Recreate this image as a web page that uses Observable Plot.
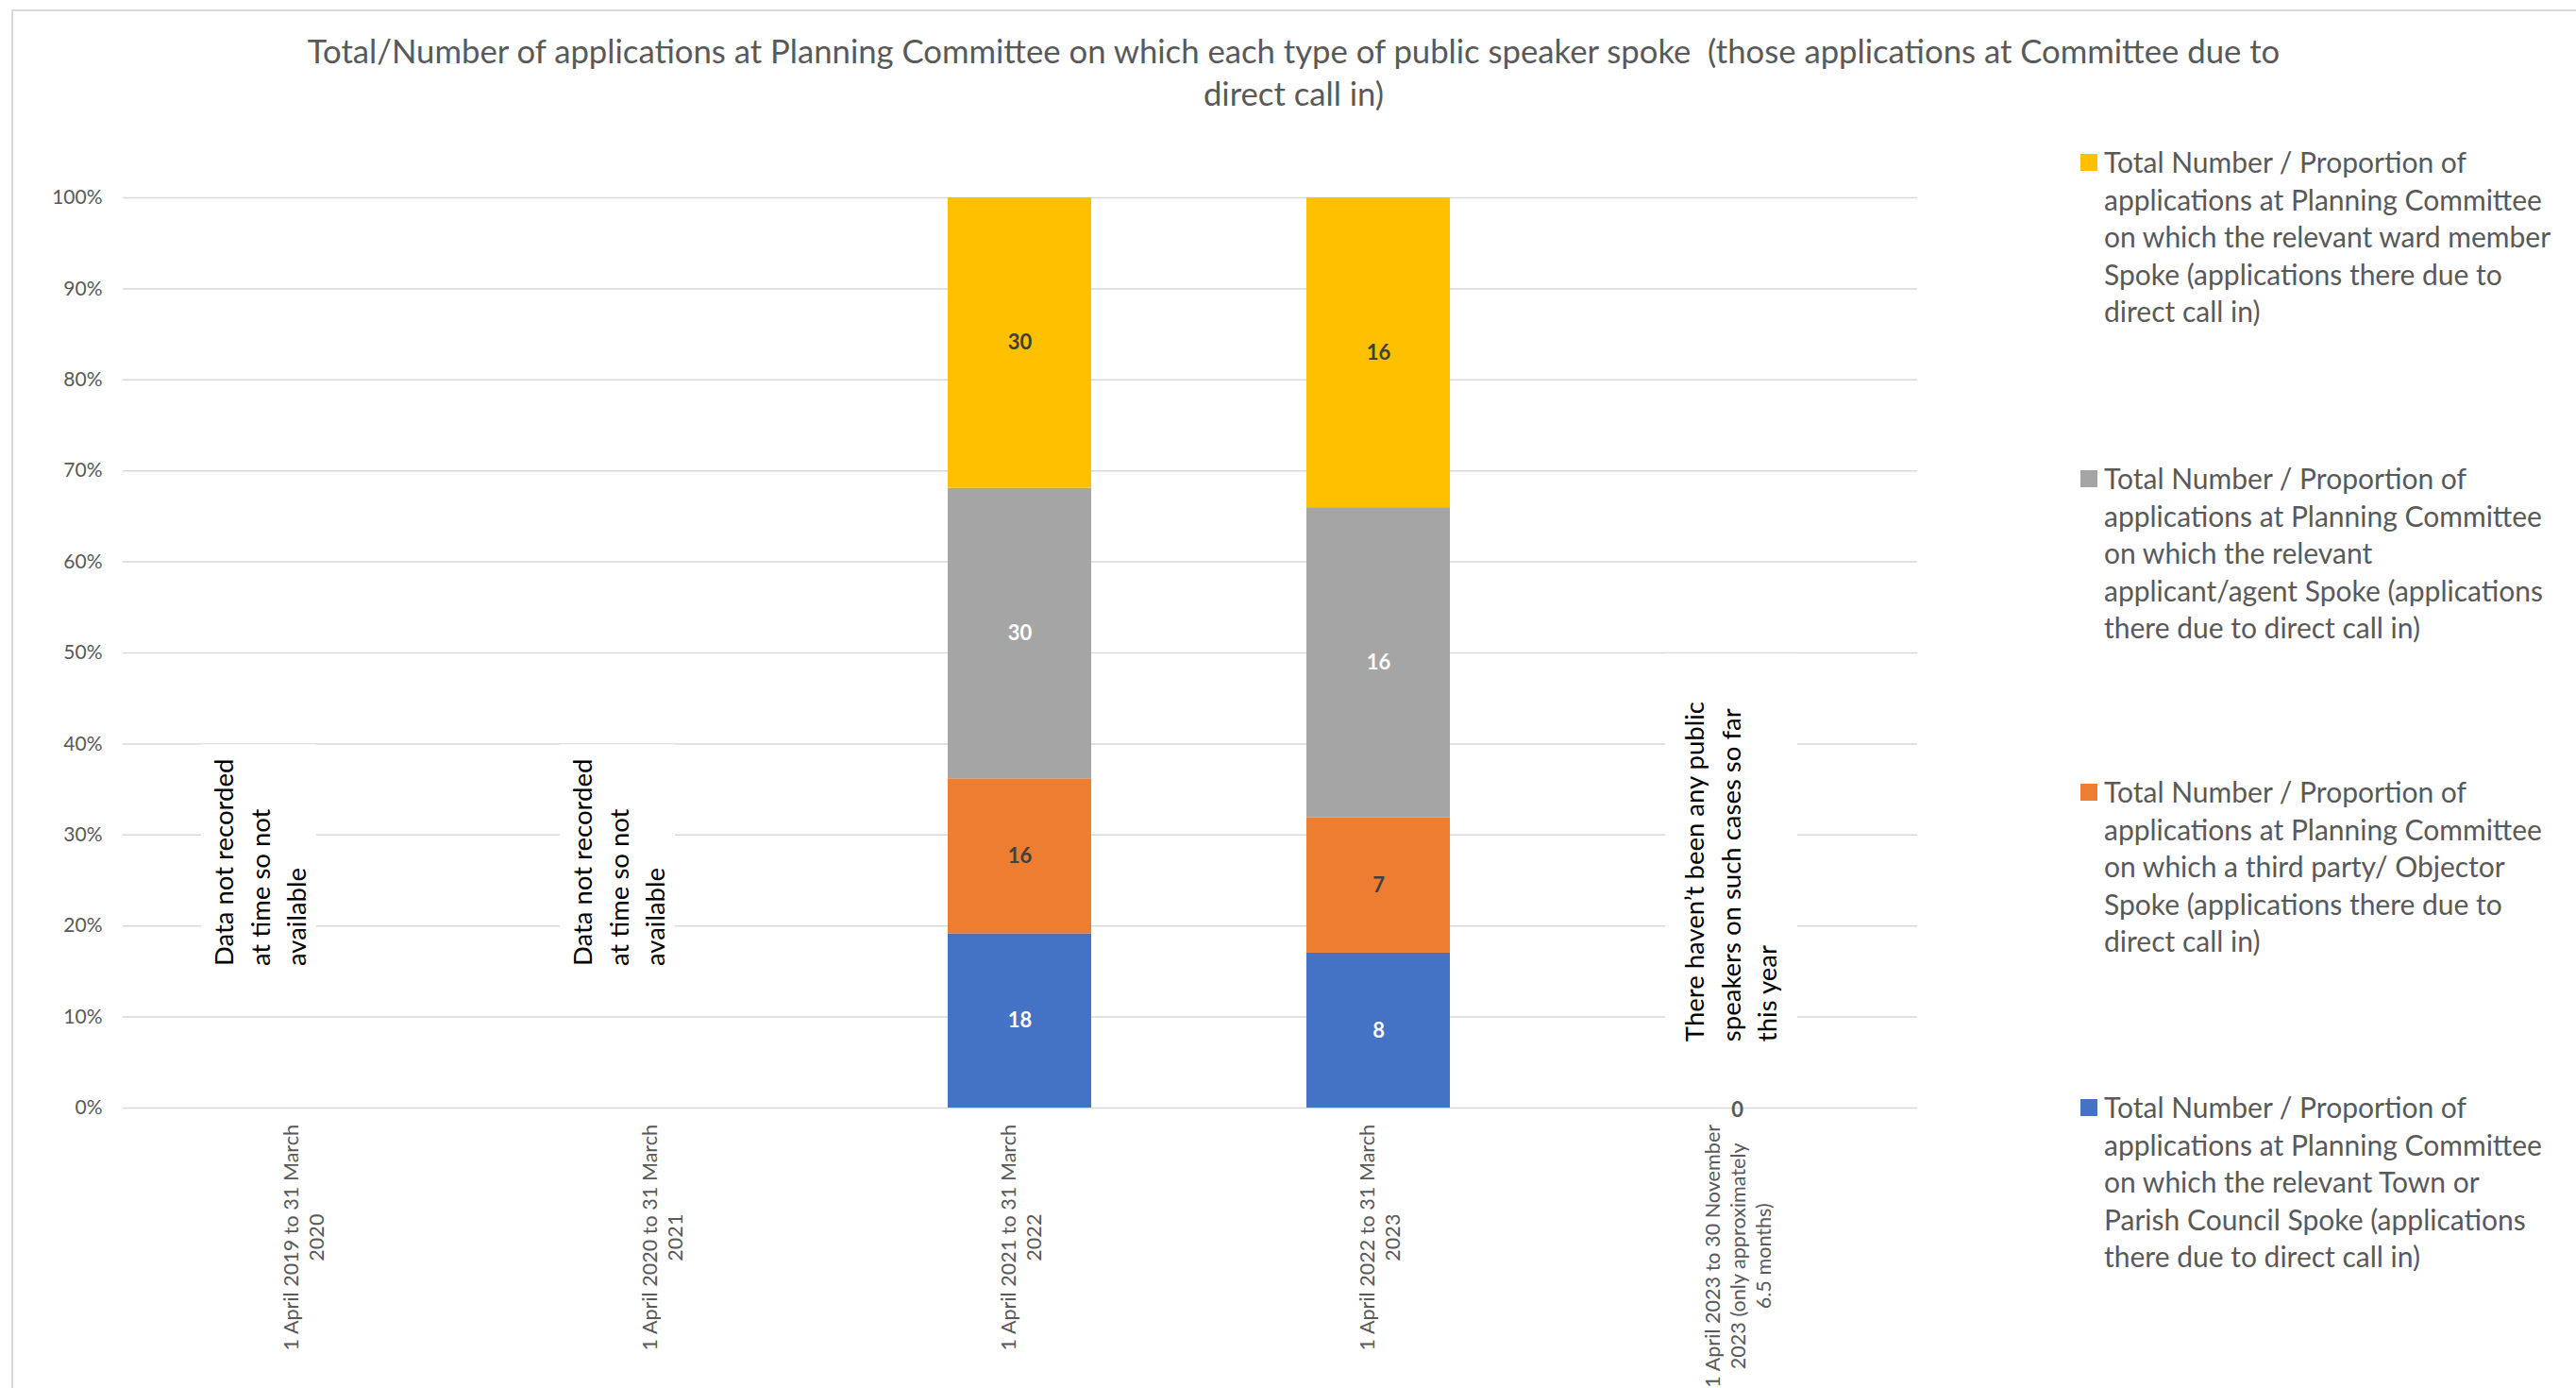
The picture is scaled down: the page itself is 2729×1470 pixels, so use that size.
<!DOCTYPE html>
<html>
<head>
<meta charset="utf-8">
<script src="https://cdn.jsdelivr.net/npm/d3@7"></script>
<script src="https://cdn.jsdelivr.net/npm/@observablehq/plot@0.6"></script>
<style>
  html, body { margin: 0; padding: 0; background: #fff; }
  body { width: 2729px; height: 1470px; overflow: hidden; position: relative; font-family: Lato, sans-serif; }
  #frame { position: absolute; left: 12px; top: 10px; width: 2740px; height: 1500px; border: 2px solid #d9d9d9; box-sizing: border-box; }
  #chart { position: absolute; left: 0; top: 0; }
  #title { position: absolute; left: 12px; width: 2717px; top: 31px; text-align: center; color: #595959; font-size: 34.7px; line-height: 45px; white-space: pre; }
  #legend { position: absolute; left: 2204px; top: 0; color: #595959; font-size: 30px; line-height: 39.5px; }
  .item { position: absolute; left: 0; white-space: pre; }
  .sw { position: absolute; left: 0; top: 11px; width: 18px; height: 18px; }
  .lt { position: absolute; left: 25px; top: 0; }
</style>
</head>
<body>
<div id="frame"></div>
<div id="chart"></div>
<div id="title"></div>
<div id="legend"></div>
<script>
// ---------- data ----------
const titleLines = [
  "Total/Number of applications at Planning Committee on which each type of public speaker spoke  (those applications at Committee due to",
  "direct call in)"
];
const periods = [
  "1 April 2019 to 31 March\n2020",
  "1 April 2020 to 31 March\n2021",
  "1 April 2021 to 31 March\n2022",
  "1 April 2022 to 31 March\n2023",
  "1 April 2023 to 30 November\n2023 (only approximately\n6.5 months)"
];
// stack order, bottom to top
const seriesNames = [
  "Total Number / Proportion of\napplications at Planning Committee\non which the relevant Town or\nParish Council Spoke (applications\nthere due to direct call in)",
  "Total Number / Proportion of\napplications at Planning Committee\non which a third party/ Objector\nSpoke (applications there due to\ndirect call in)",
  "Total Number / Proportion of\napplications at Planning Committee\non which the relevant\napplicant/agent Spoke (applications\nthere due to direct call in)",
  "Total Number / Proportion of\napplications at Planning Committee\non which the relevant ward member\nSpoke (applications there due to\ndirect call in)"
];
// null = not recorded
const parishValues    = [null, null, 18, 8, 0];
const objectorValues  = [null, null, 16, 7, 0];
const applicantValues = [null, null, 30, 16, 0];
const wardValues      = [null, null, 30, 16, 0];
const notes = [
  {period: periods[0], text: "Data not recorded\nat time so not\navailable"},
  {period: periods[1], text: "Data not recorded\nat time so not\navailable"},
  {period: periods[4], text: "There haven\u2019t been any public\nspeakers on such cases so far\nthis year"}
];
const yTicks = [0, 0.1, 0.2, 0.3, 0.4, 0.5, 0.6, 0.7, 0.8, 0.9, 1];

// ---------- derived table ----------
const seriesValues = [parishValues, objectorValues, applicantValues, wardValues];
const table = [];
periods.forEach((p, i) => {
  seriesNames.forEach((s, j) => {
    const v = seriesValues[j][i];
    if (v != null) table.push({period: p, series: s, value: v});
  });
});
const totals = periods.map((p, i) => ({period: p, recorded: seriesValues.every(a => a[i] != null),
  total: d3.sum(seriesValues, a => a[i] || 0)}));
const zeroPeriods = totals.filter(t => t.recorded && t.total === 0);
const stacked = table.filter(d => totals.find(t => t.period === d.period).total > 0);

const colors = ["#4472C4", "#ED7D31", "#A5A5A5", "#FFC000"];
const darkLabelSeries = [seriesNames[1], seriesNames[3]];

// ---------- layout ----------
const W = 2729, H = 1470;
const mL = 130, mR = 698, mT = 209, mB = 297;
const xFont = 21.6;

const canvas = document.createElement("canvas");
const ctx = canvas.getContext("2d");
ctx.font = xFont + "px Lato";
const labelWidth = s => d3.max(s.split("\n"), l => ctx.measureText(l).width);

const stackOpts = {offset: "normalize", order: seriesNames, x: "period", y: "value", z: "series"};

const xLabelMarks = periods.map(p => Plot.text([p], {
  x: d => d, frameAnchor: "bottom", text: d => d, rotate: -90,
  textAnchor: "middle", lineAnchor: "middle", lineHeight: 1.25,
  fontSize: xFont, fill: "#595959", dy: 17 + labelWidth(p) / 2
}));

const plot = Plot.plot({
  width: W, height: H,
  marginLeft: mL, marginRight: mR, marginTop: mT, marginBottom: mB,
  style: {fontFamily: "Lato, sans-serif", color: "#595959", background: "transparent"},
  x: {domain: periods, paddingInner: 0.6, paddingOuter: 0.3, axis: null},
  y: {domain: [0, 1], axis: null, label: null},
  color: {domain: seriesNames, range: colors},
  marks: [
    Plot.gridY(yTicks, {stroke: "#d9d9d9", strokeOpacity: 1, strokeWidth: 1.5}),
    Plot.axisY(yTicks, {tickFormat: d3.format(".0%"), tickSize: 0, tickPadding: 22, fontSize: 21, fill: "#595959", label: null}),
    // white boxes behind notes
    Plot.barY(notes.slice(0, 2), {x: "period", y1: 0.12, y2: 0.399, fill: "white", dx: -46, insetLeft: 15, insetRight: 15}),
    Plot.barY(notes.slice(2), {x: "period", y1: 0.06, y2: 0.499, fill: "white", dx: -6, insetLeft: 6, insetRight: 6}),
    Plot.text(notes.slice(0, 2), {x: "period", y: 0.156, text: "text", rotate: -90, textAnchor: "start",
      lineAnchor: "middle", lineHeight: 1.4, fontSize: 27.5, fill: "black", dx: -47}),
    Plot.text(notes.slice(2), {x: "period", y: 0.073, text: "text", rotate: -90, textAnchor: "start",
      lineAnchor: "middle", lineHeight: 1.4, fontSize: 27.5, fill: "black", dx: -9}),
    Plot.barY(stacked, Plot.stackY({...stackOpts, fill: "series"})),
    Plot.text(stacked, Plot.stackY({...stackOpts, text: d => darkLabelSeries.includes(d.series) ? String(d.value) : "",
      fill: "#404040", fontSize: 22, fontWeight: "bold"})),
    Plot.text(stacked, Plot.stackY({...stackOpts, text: d => darkLabelSeries.includes(d.series) ? "" : String(d.value),
      fill: "white", fontSize: 22, fontWeight: "bold"})),
    Plot.text(zeroPeriods, {x: "period", y: 0, text: d => String(d.total), fill: "#595959", fontSize: 22, fontWeight: "bold", dy: 2}),
    ...xLabelMarks
  ]
});
document.getElementById("chart").appendChild(plot);

// ---------- title ----------
document.getElementById("title").textContent = titleLines.join("\n");

// ---------- legend (top to bottom: reverse of stack) ----------
const legend = document.getElementById("legend");
const legendTops = [152, 487, 819, 1153];
seriesNames.slice().reverse().forEach((s, i) => {
  const item = document.createElement("div");
  item.className = "item";
  item.style.top = legendTops[i] + "px";
  const sw = document.createElement("div");
  sw.className = "sw";
  sw.style.background = colors[seriesNames.length - 1 - i];
  const lt = document.createElement("div");
  lt.className = "lt";
  lt.textContent = s;
  item.appendChild(sw); item.appendChild(lt);
  legend.appendChild(item);
});
</script>
</body>
</html>
